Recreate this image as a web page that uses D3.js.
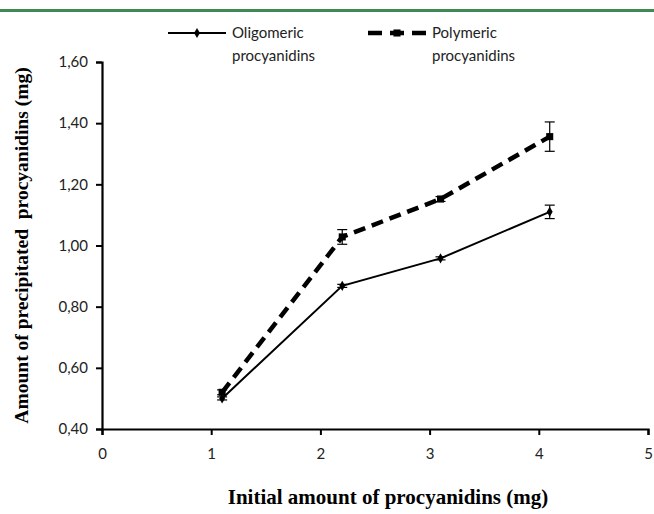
<!DOCTYPE html>
<html><head><meta charset="utf-8">
<script src="https://cdn.jsdelivr.net/npm/d3@7/dist/d3.min.js"></script>
<style>body{margin:0;background:#fff}svg{display:block}</style></head>
<body><svg id="c" width="654" height="514"></svg>
<script>
const xValues = [1.1, 2.2, 3.1, 4.1];
const oligomeric = [0.50, 0.868, 0.958, 1.11];
const oligomericErr = [0.005, 0.005, 0.005, 0.022];
const polymeric = [0.52, 1.028, 1.152, 1.356];
const polymericErr = [0.008, 0.024, 0.008, 0.048];
const xTicks = [0, 1, 2, 3, 4, 5];
const yTicks = [0.4, 0.6, 0.8, 1.0, 1.2, 1.4, 1.6];
const legendLines = [["Oligomeric", "procyanidins"], ["Polymeric", "procyanidins"]];
const xTitle = "Initial amount of procyanidins (mg)";
const yTitle = "Amount of precipitated  procyanidins (mg)";

const svg = d3.select("#c");
const x = d3.scaleLinear().domain([0, 5]).range([102, 648]);
const y = d3.scaleLinear().domain([0.4, 1.6]).range([429, 62]);
const fmt = v => d3.format(".2f")(v).replace(".", ",");
const sans = "Lato, 'Open Sans', sans-serif";
const serif = "'Liberation Serif', 'Times New Roman', serif";

// top green rule
svg.append("rect").attr("x", 0).attr("y", 9).attr("width", 654).attr("height", 3).attr("fill", "#3f8a52");

// axes
const yAxis = svg.append("g").attr("transform", `translate(${x(0)},0)`)
  .call(d3.axisLeft(y).tickValues(yTicks).tickFormat(fmt).tickSizeOuter(0).tickSize(6).tickPadding(8));
const xAxis = svg.append("g").attr("transform", `translate(0,${y(0.4)})`)
  .call(d3.axisBottom(x).tickValues(xTicks).tickFormat(d3.format("d")).tickSizeOuter(0).tickSize(6).tickPadding(13));
[yAxis, xAxis].forEach(g => {
  g.select(".domain").attr("stroke", "#000").attr("stroke-width", 2.2);
  g.selectAll(".tick line").attr("stroke", "#000").attr("stroke-width", 2);
  g.selectAll(".tick text").attr("font-family", sans).attr("font-size", 15).attr("fill", "#222");
});

// titles
svg.append("text").attr("x", 388).attr("y", 504).attr("text-anchor", "middle")
  .attr("font-family", serif).attr("font-weight", "bold").attr("font-size", 21)
  .text(xTitle);
svg.append("text").attr("transform", `translate(28,${(y(0.4) + y(1.6)) / 2}) rotate(-90)`).attr("text-anchor", "middle")
  .attr("font-family", serif).attr("font-weight", "bold").attr("font-size", 19.5)
  .style("white-space", "pre")
  .text(yTitle);

const line = d3.line().x(d => x(d[0])).y(d => y(d[1]));
const olig = xValues.map((v, i) => [v, oligomeric[i], oligomericErr[i]]);
const poly = xValues.map((v, i) => [v, polymeric[i], polymericErr[i]]);

function errorBars(data) {
  const g = svg.append("g").attr("stroke", "#000").attr("stroke-width", 1.2);
  data.forEach(d => {
    g.append("line").attr("x1", x(d[0])).attr("x2", x(d[0])).attr("y1", y(d[1] - d[2])).attr("y2", y(d[1] + d[2]));
    [d[1] - d[2], d[1] + d[2]].forEach(v => g.append("line").attr("x1", x(d[0]) - 5).attr("x2", x(d[0]) + 5).attr("y1", y(v)).attr("y2", y(v)));
  });
}
errorBars(poly);
errorBars(olig);

svg.append("path").datum(poly).attr("d", line).attr("fill", "none").attr("stroke", "#000")
  .attr("stroke-width", 4.5).attr("stroke-dasharray", "12,7");
svg.append("path").datum(olig).attr("d", line).attr("fill", "none").attr("stroke", "#000").attr("stroke-width", 2);

const diamond = d3.symbol().type(d3.symbolDiamond).size(30);
const square = d3.symbol().type(d3.symbolSquare).size(50);
svg.selectAll(".mo").data(olig).join("path").attr("d", diamond)
  .attr("transform", d => `translate(${x(d[0])},${y(d[1])})`).attr("fill", "#000");
svg.selectAll(".mp").data(poly).join("path").attr("d", square)
  .attr("transform", d => `translate(${x(d[0])},${y(d[1])})`).attr("fill", "#000");

// legend
const lg = svg.append("g").attr("font-family", sans).attr("font-size", 15).attr("fill", "#222");
const legendX = [168, 368];
legendX.forEach((lx, i) => {
  const ly = 33;
  if (i === 0) {
    lg.append("line").attr("x1", lx).attr("x2", lx + 58).attr("y1", ly).attr("y2", ly).attr("stroke", "#000").attr("stroke-width", 2);
    lg.append("path").attr("d", diamond).attr("transform", `translate(${lx + 29},${ly})`).attr("fill", "#000");
  } else {
    lg.append("line").attr("x1", lx).attr("x2", lx + 58).attr("y1", ly).attr("y2", ly).attr("stroke", "#000")
      .attr("stroke-width", 4.5).attr("stroke-dasharray", "14,8,14,8,14");
    lg.append("path").attr("d", square).attr("transform", `translate(${lx + 29},${ly})`).attr("fill", "#000");
  }
  legendLines[i].forEach((t, j) => lg.append("text").attr("x", lx + 64).attr("y", ly + 5 + j * 23).text(t));
});
</script></body></html>
